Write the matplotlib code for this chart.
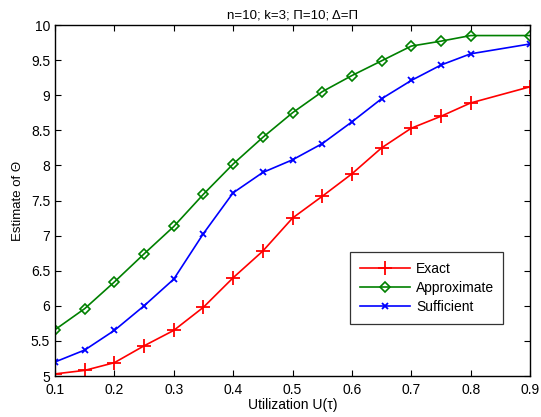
import matplotlib
matplotlib.use("Agg")
import matplotlib.pyplot as plt
from matplotlib.ticker import FuncFormatter

plt.rcParams['font.family'] = ['Liberation Sans', 'DejaVu Sans']

util = [0.1, 0.15, 0.2, 0.25, 0.3, 0.35, 0.4, 0.45, 0.5, 0.55, 0.6, 0.65, 0.7, 0.75, 0.8, 0.9]
exact = [5.03, 5.08, 5.19, 5.43, 5.65, 5.98, 6.40, 6.78, 7.25, 7.56, 7.88, 8.25, 8.53, 8.70, 8.89, 9.12]
approx = [5.66, 5.96, 6.34, 6.74, 7.13, 7.59, 8.02, 8.40, 8.75, 9.05, 9.28, 9.49, 9.70, 9.77, 9.85, 9.85]
suff = [5.20, 5.37, 5.65, 6.00, 6.38, 7.03, 7.61, 7.90, 8.08, 8.31, 8.62, 8.95, 9.21, 9.43, 9.59, 9.73]

xticks = [0.1, 0.2, 0.3, 0.4, 0.5, 0.6, 0.7, 0.8, 0.9]
yticks = [5, 5.5, 6, 6.5, 7, 7.5, 8, 8.5, 9, 9.5, 10]

fig = plt.figure(figsize=(5.41, 4.17), dpi=100)
ax = fig.add_axes([0.1017, 0.0983, 0.878, 0.8417])

ax.plot(util, exact, color=(1, 0, 0), lw=1.2, marker='+', ms=10, mew=1.3, label='Exact')
ax.plot(util, approx, color=(0, 0.5, 0), lw=1.2, marker='D', ms=5, mew=1.2, mfc='none', label='Approximate')
ax.plot(util, suff, color=(0, 0, 1), lw=1.2, marker='x', ms=5, mew=1.3, label='Sufficient')

ax.set_xlim(0.1, 0.9)
ax.set_ylim(5, 10)
ax.set_xticks(xticks)
ax.set_yticks(yticks)
ax.yaxis.set_major_formatter(FuncFormatter(lambda v, p: f"{v:g}"))
ax.tick_params(direction='in', top=True, right=True, labelsize=10, length=4, width=0.8)
ax.tick_params(axis='x', pad=5)
for s in ax.spines.values():
    s.set_linewidth(1.0)

ax.set_title('n=10; k=3; Π=10; Δ=Π', fontsize=9.5, pad=5)
ax.set_xlabel('Utilization U(τ)', fontsize=10, labelpad=1)
ax.set_ylabel('Estimate of Θ', fontsize=9.5, labelpad=5)

leg = ax.legend(loc='lower left', bbox_to_anchor=(0.621, 0.148, 0.322, 0.2), mode='expand',
                fontsize=10, frameon=True, fancybox=False, edgecolor='black',
                borderaxespad=0, handlelength=3.6, labelspacing=0.35, borderpad=0.75,
                handletextpad=0.4)
leg.get_frame().set_linewidth(0.9)

fig.savefig('out.png', dpi=100)
